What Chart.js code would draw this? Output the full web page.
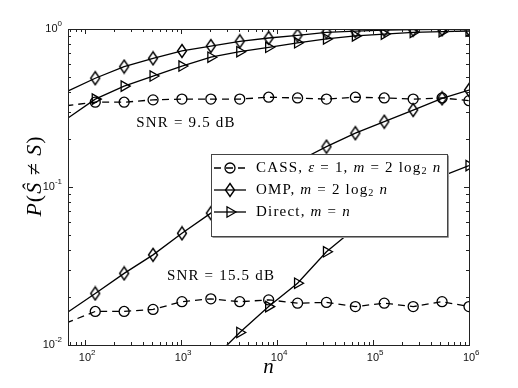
<!DOCTYPE html>
<html>
<head>
<meta charset="utf-8">
<script src="https://cdn.jsdelivr.net/npm/chart.js@4"></script>
<style>
  html, body { margin: 0; background: #fff; }
  #wrap { width: 518px; height: 388px; }
</style>
</head>
<body>
<div id="wrap"><canvas id="errChart" width="518" height="388"></canvas></div>
<script>
"use strict";

// Block length n (powers of two, last point at 10^6)
const nValues = [64, 128, 256, 512, 1024, 2048, 4096, 8192, 16384, 32768, 65536, 131072, 262144, 524288, 1000000];

// SNR = 9.5 dB
const cassHigh   = [0.327, 0.344, 0.344, 0.356, 0.36, 0.36, 0.36, 0.37, 0.366, 0.36, 0.37, 0.366, 0.36, 0.366, 0.352];
const ompHigh    = [0.40, 0.488, 0.578, 0.652, 0.726, 0.78, 0.836, 0.877, 0.91, 0.953, 0.97, 0.985, 0.99, 0.995, 0.997];
const directHigh = [0.269, 0.36, 0.435, 0.504, 0.583, 0.663, 0.718, 0.766, 0.818, 0.865, 0.904, 0.929, 0.953, 0.962, 0.971];

// SNR = 15.5 dB
const cassLow   = [0.0138, 0.0163, 0.0163, 0.0168, 0.0188, 0.0196, 0.0188, 0.0193, 0.0184, 0.0186, 0.0175, 0.0184, 0.0175, 0.0188, 0.0175];
const ompLow    = [0.0159, 0.0212, 0.0284, 0.0372, 0.0509, 0.0683, 0.09, 0.115, 0.145, 0.18, 0.219, 0.259, 0.307, 0.364, 0.411];
const directLow = [null, null, null, null, null, 0.0079, 0.012, 0.0175, 0.0246, 0.0389, 0.055, 0.076, 0.098, 0.117, 0.1365];

// Tick labels as decade exponents
const xTickExps = [2, 3, 4, 5, 6];
const yTickExps = [0, -1, -2];

const SERIF = "'Liberation Serif', 'Times New Roman', serif";
const SANS = "'Liberation Sans', Arial, sans-serif";

// Tall open diamond marker
function makeDiamond() {
    const c = document.createElement("canvas");
    c.width = 12; c.height = 16;
    const g = c.getContext("2d");
    g.strokeStyle = "#000";
    g.lineWidth = 1.4;
    g.beginPath();
    g.moveTo(6, 1.5); g.lineTo(10.5, 8); g.lineTo(6, 14.5); g.lineTo(1.5, 8);
    g.closePath();
    g.stroke();
    return c;
}
const diamond = makeDiamond();

const toPoints = arr => nValues.map((n, i) => ({ x: n, y: arr[i] }));
// first sample sits at the axis edge, so no marker there
const hideFirst = r => ctx => (ctx.dataIndex === 0 ? 0 : r);

const styles = {
    cass:   { pointStyle: "circle", pointRadius: hideFirst(5), borderDash: [7, 5], pointRotation: 0 },
    omp:    { pointStyle: diamond, pointRadius: hideFirst(6), borderDash: [], pointRotation: 0 },
    direct: { pointStyle: "triangle", pointRadius: hideFirst(6), borderDash: [], pointRotation: 90 }
};

function series(arr, kind) {
    const s = styles[kind];
    return {
        data: toPoints(arr),
        borderColor: "#000",
        borderWidth: 1.3,
        borderDash: s.borderDash,
        backgroundColor: "rgba(0,0,0,0)",
        pointStyle: s.pointStyle,
        pointRadius: s.pointRadius,
        pointRotation: s.pointRotation,
        pointBorderColor: "#000",
        pointBorderWidth: 1.3,
        pointBackgroundColor: "rgba(0,0,0,0)",
        tension: 0,
        spanGaps: false
    };
}

// Draw a run of [text, style] parts; style: r roman, i italic, s subscript
function drawRich(ctx, parts, x, y, size, spacing) {
    ctx.textBaseline = "middle";
    ctx.textAlign = "left";
    parts.forEach(([txt, st]) => {
        const fs = st === "s" ? size * 0.68 : size;
        ctx.font = (st === "i" ? "italic " : "") + fs + "px " + SERIF;
        ctx.letterSpacing = spacing + "px";
        ctx.fillText(txt, x, st === "s" ? y + size * 0.25 : y);
        x += ctx.measureText(txt).width;
    });
    ctx.letterSpacing = "0px";
    return x;
}

function richWidth(ctx, parts, size, spacing) {
    let w = 0;
    parts.forEach(([txt, st]) => {
        const fs = st === "s" ? size * 0.68 : size;
        ctx.font = (st === "i" ? "italic " : "") + fs + "px " + SERIF;
        ctx.letterSpacing = spacing + "px";
        w += ctx.measureText(txt).width;
    });
    ctx.letterSpacing = "0px";
    return w;
}

const legendRows = [
    { kind: "cass",   parts: [["CASS, ", "r"], ["\u03B5", "i"], [" = 1, ", "r"], ["m", "i"], [" = 2 log", "r"], ["2", "s"], [" n", "i"]] },
    { kind: "omp",    parts: [["OMP, ", "r"], ["m", "i"], [" = 2 log", "r"], ["2", "s"], [" n", "i"]] },
    { kind: "direct", parts: [["Direct, ", "r"], ["m", "i"], [" = ", "r"], ["n", "i"]] }
];

const decorPlugin = {
    id: "decor",
    afterDatasetsDraw(chart) {
        const { ctx, chartArea: a, scales: { x, y } } = chart;
        ctx.save();

        // axis box
        ctx.strokeStyle = "#222";
        ctx.lineWidth = 1;
        ctx.strokeRect(a.left + 0.5, a.top + 0.5, a.right - a.left, a.bottom - a.top);

        // inward ticks on all four sides
        ctx.beginPath();
        for (let k = 1; k <= 6; k++) {
            for (let m = 1; m <= 9; m++) {
                const v = m * Math.pow(10, k);
                if (v < x.min || v > x.max) continue;
                const px = Math.round(x.getPixelForValue(v)) + 0.5;
                const len = m === 1 ? 5 : 3;
                ctx.moveTo(px, a.bottom); ctx.lineTo(px, a.bottom - len);
                ctx.moveTo(px, a.top); ctx.lineTo(px, a.top + len);
            }
        }
        for (let k = -2; k <= 0; k++) {
            for (let m = 1; m <= 9; m++) {
                const v = m * Math.pow(10, k);
                if (v < y.min || v > y.max) continue;
                const py = Math.round(y.getPixelForValue(v)) + 0.5;
                const len = m === 1 ? 5 : 3;
                ctx.moveTo(a.left, py); ctx.lineTo(a.left + len, py);
                ctx.moveTo(a.right, py); ctx.lineTo(a.right - len, py);
            }
        }
        ctx.stroke();

        // tick labels 10^k
        ctx.fillStyle = "#111";
        ctx.textBaseline = "middle";
        xTickExps.forEach(e => {
            const px = x.getPixelForValue(Math.pow(10, e));
            ctx.font = "11px " + SANS;
            ctx.textAlign = "center";
            ctx.fillText("10", px, a.bottom + 13);
            const bw = ctx.measureText("10").width;
            ctx.font = "8px " + SANS;
            ctx.textAlign = "left";
            ctx.fillText(String(e), px + bw / 2, a.bottom + 8);
        });
        yTickExps.forEach(e => {
            const py = y.getPixelForValue(Math.pow(10, e));
            ctx.font = "8px " + SANS;
            const ex = String(e);
            const ew = ctx.measureText(ex).width;
            ctx.textAlign = "right";
            ctx.fillText(ex, a.left - 6, py - 5);
            ctx.font = "11px " + SANS;
            ctx.fillText("10", a.left - 6 - ew, py);
        });

        // axis titles
        ctx.fillStyle = "#000";
        ctx.font = "italic 21px " + SERIF;
        ctx.textAlign = "center";
        ctx.textBaseline = "middle";
        ctx.fillText("n", (a.left + a.right) / 2, a.bottom + 22);

        const yParts = [["P", "i"], ["(", "r"], ["\u015C", "i"], [" \u2260 ", "r"], ["S", "i"], [")", "r"]];
        ctx.save();
        ctx.translate(35, 176);
        ctx.rotate(-Math.PI / 2);
        const yw = richWidth(ctx, yParts, 22, 1);
        drawRich(ctx, yParts, -yw / 2, 0, 22, 1);
        ctx.restore();

        // SNR annotations
        const notes = [["SNR = 9.5 dB", 186, 123], ["SNR = 15.5 dB", 221, 276]];
        notes.forEach(([t, cx, cy]) => {
            const w = richWidth(ctx, [[t, "r"]], 15, 1.2);
            drawRich(ctx, [[t, "r"]], cx - w / 2, cy, 15, 1.2);
        });

        // legend box
        const L = { left: 211.5, top: 154.5, w: 236, h: 82 };
        ctx.fillStyle = "#fff";
        ctx.fillRect(L.left, L.top, L.w, L.h);
        ctx.strokeStyle = "#999";
        ctx.beginPath();
        ctx.moveTo(L.left + 1, L.top + L.h + 1); ctx.lineTo(L.left + L.w + 1, L.top + L.h + 1);
        ctx.lineTo(L.left + L.w + 1, L.top + 1);
        ctx.stroke();
        ctx.strokeStyle = "#444";
        ctx.strokeRect(L.left, L.top, L.w, L.h);

        legendRows.forEach((row, i) => {
            const ry = 168 + i * 22;
            const s = styles[row.kind];
            ctx.strokeStyle = "#000";
            ctx.lineWidth = 1.3;
            ctx.setLineDash(s.borderDash);
            ctx.beginPath();
            ctx.moveTo(214, ry); ctx.lineTo(246, ry);
            ctx.stroke();
            ctx.setLineDash([]);
            ctx.fillStyle = "rgba(0,0,0,0)";
            Chart.helpers.drawPoint(ctx, {
                pointStyle: s.pointStyle,
                radius: row.kind === "cass" ? 5 : 6,
                rotation: s.pointRotation,
                borderWidth: 1.3
            }, 230, ry);
            ctx.fillStyle = "#000";
            drawRich(ctx, row.parts, 256, ry, 15, 1.2);
        });

        ctx.restore();
    }
};

new Chart(document.getElementById("errChart").getContext("2d"), {
    type: "line",
    data: {
        datasets: [
            series(cassHigh, "cass"),
            series(ompHigh, "omp"),
            series(directHigh, "direct"),
            series(cassLow, "cass"),
            series(ompLow, "omp"),
            series(directLow, "direct")
        ]
    },
    options: {
        responsive: false,
        animation: false,
        devicePixelRatio: 1,
        layout: { padding: { left: 68, right: 49, top: 29, bottom: 43 } },
        scales: {
            x: { type: "logarithmic", min: 66.6, max: 1000000, display: false },
            y: { type: "logarithmic", min: 0.01, max: 1, display: false }
        },
        plugins: {
            legend: { display: false },
            tooltip: { enabled: false }
        }
    },
    plugins: [decorPlugin]
});
</script>
</body>
</html>
